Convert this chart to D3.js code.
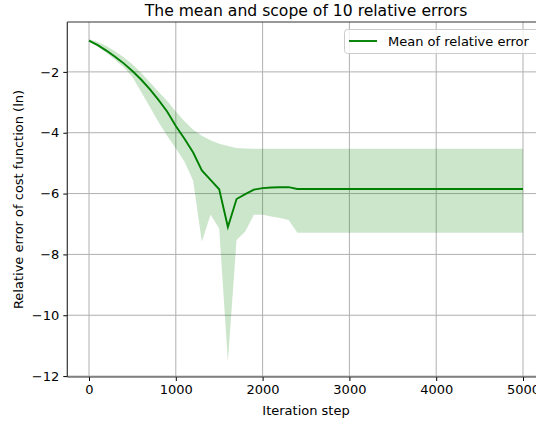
<!DOCTYPE html>
<html><head><meta charset="utf-8">
<script src="https://cdn.jsdelivr.net/npm/d3@7"></script>
<style>body{margin:0;background:#fff}svg{display:block}text{font-family:"DejaVu Sans",sans-serif;fill:#000}</style>
</head><body><svg id="c" width="536" height="421"></svg>
<script>
const steps = d3.range(0, 5001, 100);
const meanHead = [-0.97,-1.12,-1.3,-1.5,-1.72,-1.97,-2.25,-2.57,-2.92,-3.3,-3.78,-4.2,-4.65,-5.24,-5.55,-5.86,-7.1,-6.18,-6.02,-5.87,-5.82,-5.8,-5.79,-5.79,-5.85];
const upperHead = [-0.93,-1.02,-1.15,-1.32,-1.52,-1.75,-2.03,-2.33,-2.65,-2.95,-3.3,-3.62,-3.9,-4.1,-4.25,-4.36,-4.44,-4.5,-4.52,-4.53,-4.53,-4.53,-4.53,-4.53,-4.53];
const lowerHead = [-0.99,-1.16,-1.37,-1.6,-1.85,-2.17,-2.65,-3.15,-3.65,-4.1,-4.51,-4.95,-5.58,-7.58,-6.7,-7.15,-11.53,-7.53,-7.25,-6.7,-6.7,-6.75,-6.8,-6.87,-7.29];
const meanVals = meanHead.concat(Array(steps.length - meanHead.length).fill(-5.85));
const upperVals = upperHead.concat(Array(steps.length - upperHead.length).fill(-4.53));
const lowerVals = lowerHead.concat(Array(steps.length - lowerHead.length).fill(-7.29));
const xTicks = [0,1000,2000,3000,4000,5000];
const yTicks = [-2,-4,-6,-8,-10,-12];

const svg = d3.select("#c");
const L = 67.3, R = 544.7, T = 22, B = 377;
const x = d3.scaleLinear().domain([-250, 5250]).range([L, R]);
const y = d3.scaleLinear().domain([-12.03, -0.36]).range([B, T]);
const data = steps.map((s,i)=>({s, m:meanVals[i], u:upperVals[i], l:lowerVals[i]}));

const g = svg.append("g");
g.selectAll(".gx").data(xTicks).join("line").attr("x1",d=>x(d)).attr("x2",d=>x(d)).attr("y1",T).attr("y2",B).attr("stroke","#b0b0b0").attr("stroke-width",1);
g.selectAll(".gy").data(yTicks).join("line").attr("y1",d=>y(d)).attr("y2",d=>y(d)).attr("x1",L).attr("x2",R).attr("stroke","#b0b0b0").attr("stroke-width",1);

svg.append("path").datum(data).attr("fill","#008000").attr("fill-opacity",0.2)
  .attr("d", d3.area().x(d=>x(d.s)).y0(d=>y(d.l)).y1(d=>y(d.u)));
svg.append("path").datum(data).attr("fill","none").attr("stroke","#008000").attr("stroke-width",1.9)
  .attr("d", d3.line().x(d=>x(d.s)).y(d=>y(d.m)));

const xa = svg.append("g").attr("transform",`translate(0,${B})`).call(d3.axisBottom(x).tickValues(xTicks).tickSize(4).tickPadding(4).tickFormat(d3.format("d")));
const ya = svg.append("g").attr("transform",`translate(${L},0)`).call(d3.axisLeft(y).tickValues(yTicks).tickSize(4).tickPadding(4).tickFormat(d=>"\u2212"+Math.abs(d)));
[xa,ya].forEach(a=>{a.select(".domain").remove();a.selectAll("text").style("font-size","13px").style("font-family","DejaVu Sans");a.selectAll("line").attr("stroke","#000");});
svg.append("line").attr("x1",L).attr("x2",R).attr("y1",B).attr("y2",B).attr("stroke","#333").attr("stroke-width",1.2);
svg.append("line").attr("x1",L).attr("x2",R).attr("y1",T).attr("y2",T).attr("stroke","#333").attr("stroke-width",1.2);
svg.append("line").attr("x1",L).attr("x2",L).attr("y1",T).attr("y2",B).attr("stroke","#333").attr("stroke-width",1.2);

svg.append("text").attr("x",(L+R)/2).attr("y",16).attr("text-anchor","middle").style("font-size","15.6px").text("The mean and scope of 10 relative errors");
svg.append("text").attr("x",(L+R)/2).attr("y",415).attr("text-anchor","middle").style("font-size","13px").text("Iteration step");
svg.append("text").attr("transform",`translate(23,${(T+B)/2}) rotate(-90)`).attr("text-anchor","middle").style("font-size","13px").text("Relative error of cost function (ln)");

const lg = svg.append("g");
lg.append("rect").attr("x",344.5).attr("y",29.5).attr("width",210).attr("height",24).attr("rx",3).attr("fill","#fff").attr("fill-opacity",0.8).attr("stroke","#ccc");
lg.append("line").attr("x1",349).attr("x2",377).attr("y1",41).attr("y2",41).attr("stroke","#008000").attr("stroke-width",1.9);
lg.append("text").attr("x",388).attr("y",45.5).style("font-size","13px").text("Mean of relative error");
</script></body></html>
